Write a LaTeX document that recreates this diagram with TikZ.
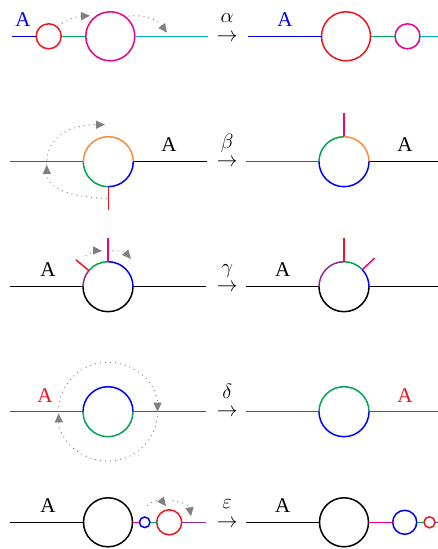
\documentclass[tikz,border=0pt]{standalone}
\usepackage{fontspec}
\setmainfont{Liberation Serif}
\usetikzlibrary{arrows.meta}
\definecolor{cBlue}{RGB}{0,0,255}
\definecolor{cRed}{RGB}{240,20,30}
\definecolor{cGreen}{RGB}{0,166,81}
\definecolor{cMag}{RGB}{236,0,140}
\definecolor{cCyan}{RGB}{0,176,200}
\definecolor{cOrange}{RGB}{247,140,60}
\definecolor{cPurple}{RGB}{146,39,143}
\definecolor{cGray}{RGB}{128,128,128}
\newcommand{\arrlab}[1]{\ooalign{$\rightarrow$\cr\hidewidth\raisebox{18.6pt}{$#1$}\hidewidth\cr}}
\begin{document}
\begin{tikzpicture}[x=1pt,y=1pt,line width=1.5pt,
  ring/.style={circle,draw,inner sep=0pt,outer sep=0pt,minimum size=#1},
  hole/.style={circle,inner sep=0pt,outer sep=0pt,minimum size=#1},
  lab/.style={font=\fontsize{21}{24}\selectfont,anchor=base,inner sep=0pt},
  rot/.style={cGray,line width=1.3pt,dash pattern=on 0.01pt off 5pt,line cap=round,
    -{Triangle[length=9pt,width=8pt]}}]
\useasboundingbox (0,0) rectangle (438,549);

% ---------- Row 1: alpha ----------
\begin{scope}[shift={(0,512.7)}]
  \coordinate (a1) at (12,0);
  \node[ring=25,draw=cRed] (a2) at (48.7,0) {};
  \node[ring=49,draw=cMag] (a3) at (110.3,0) {};
  \coordinate (a4) at (208,0);
  \draw[cBlue] (a1) -- (a2);
  \draw[cGreen] (a2) -- (a3);
  \draw[cCyan] (a3) -- (a4);
  \node[lab,text=cBlue] (aA) at (23,10) {A};
  \coordinate (a5) at (58,10.5);
  \coordinate (a6) at (90,20.5);
  \draw[rot] (a5) to[bend left=15] (a6);
  \coordinate (a7) at (129,20.3);
  \coordinate (a8) at (167,3.5);
  \draw[rot] (a7) to[bend left=30] (a8);
  \node[lab] (t1) at (227.2,-5.2) {\arrlab{\alpha}};
  \coordinate (b1) at (248,0);
  \node[ring=49,draw=cRed] (b2) at (346,0) {};
  \node[ring=25,draw=cMag] (b3) at (407.5,0) {};
  \coordinate (b4) at (438,0);
  \draw[cBlue] (b1) -- (b2);
  \draw[cGreen] (b2) -- (b3);
  \draw[cCyan] (b3) -- (b4);
  \node[lab,text=cBlue] (bA) at (285,10) {A};
\end{scope}

% ---------- Row 2: beta ----------
\begin{scope}[shift={(0,387.3)}]
  \coordinate (c1) at (10,0);
  \node[hole=50] (c2) at (108.3,0) {};
  \coordinate (c3) at (206.7,0);
  \coordinate (c4) at (108.3,-48.3);
  \draw[cMag] (c1) -- (c2);
  \draw (c2) -- (c3);
  \draw[cRed] (c2.south) -- (c4);
  \draw[cOrange] (c2.west) arc[start angle=180,end angle=0,radius=25];
  \draw[cGreen] (c2.west) arc[start angle=180,end angle=270,radius=25];
  \draw[cBlue] (c2.south) arc[start angle=270,end angle=360,radius=25];
  \node[lab] (cA) at (169,10) {A};
  \coordinate (c5) at (106.7,-36.6);
  \coordinate (c6) at (46.7,-3.3);
  \coordinate (c7) at (105,37);
  \draw[rot] (c5) .. controls (75,-36) and (47,-28) .. (c6);
  \draw[rot] (c6) .. controls (46,25) and (70,37) .. (c7);
  \node[lab] (t2) at (227.2,-5.2) {\arrlab{\beta}};
  \coordinate (d1) at (246,0);
  \node[hole=50] (d2) at (344,0) {};
  \coordinate (d3) at (438,0);
  \coordinate (d4) at (344,49);
  \draw[cRed] (d1) -- (d2);
  \draw (d2) -- (d3);
  \draw[cMag] (d2.north) -- (d4);
  \draw[cGreen] (d2.north) arc[start angle=90,end angle=180,radius=25];
  \draw[cOrange] (d2.east) arc[start angle=0,end angle=90,radius=25];
  \draw[cBlue] (d2.west) arc[start angle=180,end angle=360,radius=25];
  \node[lab] (dA) at (405,10) {A};
\end{scope}

% ---------- Row 3: gamma ----------
\begin{scope}[shift={(0,262.3)}]
  \coordinate (e1) at (10,0);
  \node[hole=50] (e2) at (108,0) {};
  \coordinate (e3) at (206,0);
  \draw (e1) -- (e2);
  \draw (e2) -- (e3);
  \draw (e2.west) arc[start angle=180,end angle=360,radius=25];
  \draw[cPurple] (e2.west) arc[start angle=180,end angle=140,radius=25];
  \draw[cGreen] (e2.140) arc[start angle=140,end angle=90,radius=25];
  \draw[cBlue] (e2.north) arc[start angle=90,end angle=0,radius=25];
  \coordinate (e4) at (75.8,27);
  \draw[cRed] (e2.140) -- (e4);
  \coordinate (e5) at (108,48.7);
  \draw[cMag] (e2.north) -- (e5);
  \node[lab] (eA) at (48,10) {A};
  \coordinate (e6) at (86,31);
  \coordinate (e7) at (102,35.7);
  \draw[rot] (e6) to[bend left=20] (e7);
  \coordinate (e8) at (113,36);
  \coordinate (e9) at (131,27.7);
  \draw[rot] (e8) to[bend left=25] (e9);
  \node[lab] (t3) at (227.2,-5.2) {\arrlab{\gamma}};
  \coordinate (f1) at (246,0);
  \node[hole=50] (f2) at (344,0) {};
  \coordinate (f3) at (438,0);
  \draw (f1) -- (f2);
  \draw (f2) -- (f3);
  \draw (f2.west) arc[start angle=180,end angle=360,radius=25];
  \draw[cPurple] (f2.north) arc[start angle=90,end angle=180,radius=25];
  \draw[cGreen] (f2.43) arc[start angle=43,end angle=90,radius=25];
  \draw[cBlue] (f2.east) arc[start angle=0,end angle=43,radius=25];
  \coordinate (f4) at (344,48.7);
  \draw[cRed] (f2.north) -- (f4);
  \coordinate (f5) at (374.7,28.6);
  \draw[cMag] (f2.43) -- (f5);
  \node[lab] (fA) at (282.7,10) {A};
\end{scope}

% ---------- Row 4: delta ----------
\begin{scope}[shift={(0,137.3)}]
  \coordinate (g1) at (10,0);
  \node[hole=50] (g2) at (108,0) {};
  \coordinate (g3) at (206,0);
  \draw[cRed] (g1) -- (g2);
  \draw[cMag] (g2) -- (g3);
  \draw[cBlue] (g2.east) arc[start angle=0,end angle=180,radius=25];
  \draw[cGreen] (g2.west) arc[start angle=180,end angle=360,radius=25];
  \node[lab,text=cRed] (gA) at (45,9.5) {A};
  \node[hole=99] (g4) at (108,0) {};
  \draw[rot] (g4.east) arc[start angle=360,end angle=182,radius=49.5];
  \draw[rot] (g4.west) arc[start angle=180,end angle=0,radius=49.5];
  \node[lab] (t4) at (227.2,-5.2) {\arrlab{\delta}};
  \coordinate (h1) at (246,0);
  \node[hole=50] (h2) at (344,0) {};
  \coordinate (h3) at (438,0);
  \draw[cMag] (h1) -- (h2);
  \draw[cRed] (h2) -- (h3);
  \draw[cGreen] (h2.east) arc[start angle=0,end angle=180,radius=25];
  \draw[cBlue] (h2.west) arc[start angle=180,end angle=360,radius=25];
  \node[lab,text=cRed] (hA) at (405,9.5) {A};
\end{scope}

% ---------- Row 5: epsilon ----------
\begin{scope}[shift={(0,26.7)}]
  \coordinate (k1) at (10,0);
  \node[ring=49] (k2) at (108,0) {};
  \node[ring=10.6,draw=cBlue] (k3) at (144.7,0) {};
  \node[ring=25,draw=cRed] (k4) at (169.2,0) {};
  \coordinate (k5) at (206,0);
  \draw (k1) -- (k2);
  \draw[cMag] (k2) -- (k3);
  \draw[cGreen] (k3) -- (k4);
  \draw[cPurple] (k4) -- (k5);
  \node[lab] (kA) at (48,10) {A};
  \coordinate (k6) at (147.5,17);
  \coordinate (k7) at (166,16);
  \draw[rot] (k6) to[bend left=50] (k7);
  \coordinate (k8) at (173,21.5);
  \coordinate (k9) at (191,6);
  \draw[rot] (k8) to[bend left=40] (k9);
  \node[lab] (t5) at (227.2,-5.2) {\arrlab{\varepsilon}};
  \coordinate (m1) at (246,0);
  \node[ring=49] (m2) at (344,0) {};
  \node[ring=24,draw=cBlue] (m3) at (404.7,0) {};
  \node[ring=11,draw=cRed] (m4) at (429.5,0) {};
  \coordinate (m5) at (438,0);
  \draw (m1) -- (m2);
  \draw[cMag] (m2) -- (m3);
  \draw[cGreen] (m3) -- (m4);
  \draw[cPurple] (m4) -- (m5);
  \node[lab] (mA) at (282.7,10) {A};
\end{scope}
\end{tikzpicture}
\end{document}
